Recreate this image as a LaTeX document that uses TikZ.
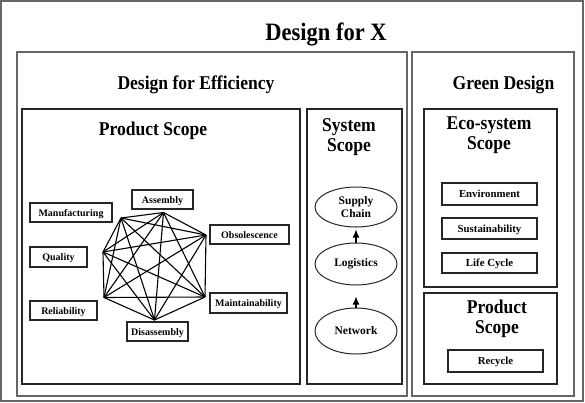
\documentclass[tikz,border=0pt]{standalone}
\usepackage{fontspec}
\setmainfont{Liberation Serif}
\newfontfamily\ttlfont[FakeStretch=0.9]{Liberation Serif}
\usetikzlibrary{shapes.geometric,arrows.meta}
\begin{document}
\begin{tikzpicture}[x=1pt,y=-1pt,
  frame/.style={draw=black!60, line width=1.1pt},
  inner/.style={draw=black!85, line width=1.2pt},
  lbl/.style={draw=black!85, line width=1.2pt, inner sep=0pt, text height=7pt, text depth=0pt, font=\bfseries\fontsize{10}{12}\selectfont},
  glbl/.style={lbl, font=\bfseries\fontsize{10.8}{12}\selectfont, text height=7.4pt, minimum width=95pt},
  ell/.style={ellipse, draw=black!85, line width=1pt, inner sep=0pt, minimum width=82pt, font=\bfseries\fontsize{11.5}{13}\selectfont, align=center},
  ttl/.style={font=\ttlfont\bfseries\fontsize{19.5}{20}\selectfont, align=center, anchor=base},
  link/.style={line width=1.1pt},
  tip/.style={line width=1.1pt, -{Latex[length=8pt,width=7pt]}}]
\useasboundingbox (0,0) rectangle (585,402);
% frames
\draw[frame] (1,1) rectangle (583,401);
\draw[frame] (17,52) rectangle (407,396);
\draw[frame] (412,52) rectangle (574,396);
\draw[inner] (22,109) rectangle (300,384);
\draw[inner] (307,109) rectangle (402,384);
\draw[inner] (424,109) rectangle (557,287);
\draw[inner] (424,293) rectangle (557,384);
% titles
\node[font=\ttlfont\bfseries\fontsize{25}{30}\selectfont, anchor=base] (dfx) at (326,40) {Design for X};
\node[ttl] (dfe) at (196,89.5) {Design for Efficiency};
\node[ttl] (gd) at (503.5,89.5) {Green Design};
\node[ttl] (ps) at (153,135) {Product Scope};
\node[ttl] (ss) at (349,151) {System\\Scope};
\node[ttl] (es) at (489,149) {Eco-system\\Scope};
\node[ttl] (gps) at (497,333) {Product\\Scope};
% product scope labels
\node[lbl, minimum width=82pt, minimum height=19pt] (manu) at (71,212.5) {Manufacturing};
\node[lbl, minimum width=61pt, minimum height=19pt] (asm) at (162.5,199.5) {Assembly};
\node[lbl, minimum width=79pt, minimum height=19pt] (obs) at (249.5,234.5) {Obsolescence};
\node[lbl, minimum width=57pt, minimum height=20pt] (qual) at (58.5,257) {Quality};
\node[lbl, minimum width=77pt, minimum height=20pt] (main) at (248.5,303) {Maintainability};
\node[lbl, minimum width=67pt, minimum height=19pt] (rel) at (63.5,310.5) {Reliability};
\node[lbl, minimum width=61pt, minimum height=19pt] (dis) at (157.5,331.5) {Disassembly};
% heptagon
\coordinate (v1) at (163.5,212.5);
\coordinate (v2) at (206,235);
\coordinate (v3) at (205,297);
\coordinate (v4) at (154.5,320);
\coordinate (v5) at (104,297.5);
\coordinate (v6) at (103,252);
\coordinate (v7) at (121,218);
\foreach \a/\b in {1/2,1/3,1/4,1/5,1/6,1/7,2/3,2/4,2/5,2/6,2/7,3/4,3/5,3/6,3/7,4/5,4/6,4/7,5/6,5/7,6/7}
  \draw[link] (v\a) -- (v\b);
% system scope
\node[ell, minimum height=40pt] (sc) at (356,207) {Supply\\Chain};
\node[ell, minimum height=42pt] (lg) at (356,264) {Logistics};
\node[ell, minimum height=46pt] (nw) at (356,331) {Network};
\draw[tip, shorten >=2pt] (lg) -- (sc);
\draw[tip, shorten >=11pt] (nw) -- (lg);
% green design
\node[glbl, minimum height=22pt] (env) at (489.5,194) {Environment};
\node[glbl, minimum height=21pt] (sus) at (489.5,228.5) {Sustainability};
\node[glbl, minimum height=20pt] (lc) at (489.5,263) {Life Cycle};
\node[glbl, minimum height=22pt] (rec) at (495.5,361) {Recycle};
\end{tikzpicture}
\end{document}
